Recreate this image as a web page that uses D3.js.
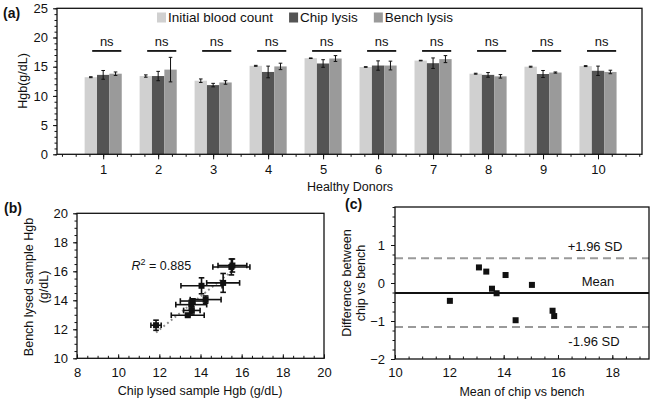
<!DOCTYPE html>
<html><head><meta charset="utf-8">
<script src="https://cdn.jsdelivr.net/npm/d3@7"></script>
<style>
html,body{margin:0;padding:0;background:#fff;}
svg{display:block;font-family:"Liberation Sans",Arial,Helvetica,sans-serif;}
</style></head>
<body><svg id="c" width="652" height="400"></svg>
<script>
// ---------- data: panel (a) ----------
const donors = [1,2,3,4,5,6,7,8,9,10];
const initialCount = [13.2, 13.4, 12.6, 15.15, 16.45, 14.95, 16.05, 13.8, 15.0, 15.1];
const initialErr   = [0.08, 0.2, 0.3, 0.08, 0.05, 0.05, 0.05, 0.08, 0.08, 0.08];
const chipLysis    = [13.6, 13.4, 11.85, 14.1, 15.55, 15.2, 15.6, 13.6, 13.75, 14.3];
const chipErr      = [0.75, 0.8, 0.3, 1.0, 0.65, 0.8, 0.9, 0.4, 0.6, 0.8];
const benchLysis   = [13.8, 14.5, 12.3, 15.05, 16.4, 15.2, 16.3, 13.35, 14.0, 14.1];
const benchErr     = [0.3, 2.1, 0.3, 0.55, 0.5, 0.75, 0.6, 0.3, 0.1, 0.3];
const seriesNames  = ["Initial blood count", "Chip lysis", "Bench lysis"];
const sigLabels    = ["ns","ns","ns","ns","ns","ns","ns","ns","ns","ns"];
const yTicksA      = [0,5,10,15,20,25];

// ---------- data: panel (b) ----------
const bChip     = [11.84, 13.38, 13.58, 13.55, 13.62, 14.25, 14.05, 15.1, 15.5, 15.55];
const bChipErr  = [0.25, 0.8, 0.4, 0.75, 0.6, 0.75, 1.0, 0.8, 0.9, 0.7];
const bBench    = [12.28, 12.97, 13.3, 13.7, 13.95, 14.05, 15.0, 15.2, 16.3, 16.4];
const bBenchErr = [0.35, 0.1, 0.25, 0.3, 0.15, 0.25, 0.55, 0.65, 0.55, 0.45];
const rSquaredText = "0.885";
const xTicksB = [8,10,12,14,16,18,20];
const yTicksB = [10,12,14,16,18,20];

// ---------- data: panel (c) ----------
const cMean = [12.02, 13.09, 13.36, 13.57, 13.74, 14.07, 14.44, 15.04, 15.80, 15.86];
const cDiff = [-0.47, 0.41, 0.30, -0.15, -0.27, 0.21, -0.98, -0.05, -0.73, -0.87];
const limitValues = [0.65, -0.26, -1.16];      // +1.96 SD, mean, -1.96 SD
const limitLabels = ["+1.96 SD", "Mean", "-1.96 SD"];
const xTicksC = [10,12,14,16,18];
const yTicksC = [-2,-1,0,1];

// ---------- drawing ----------
const svg = d3.select("#c");
svg.append("rect").attr("width",652).attr("height",400).attr("fill","#fff");
const FS = "12.5px";
const colors = ["#d0d0d0", "#545454", "#9a9a9a"];

function frame(x0,y0,x1,y1){
  svg.append("rect").attr("x",x0).attr("y",y0).attr("width",x1-x0).attr("height",y1-y0)
    .attr("fill","none").attr("stroke","#111").attr("stroke-width",1.3);
}
function styleAxis(g){
  g.select(".domain").remove();
  g.selectAll("line").attr("stroke","#111").attr("stroke-width",1);
  g.selectAll("text").attr("fill","#111").style("font-size",FS).style("font-family","Liberation Sans, Arial, sans-serif");
}
function minorTicks(domain, step){
  const out=[]; const n=Math.round((domain[1]-domain[0])/step);
  const start=Math.ceil(domain[0]/step-1e-9)*step;
  for(let v=start; v<=domain[1]+1e-9; v+=step) out.push(+v.toFixed(4));
  return out;
}
const fmt = d3.format("d");

// ===== Panel (a) =====
const xA = d3.scaleLinear().domain([0.16,10.8]).range([57,642]);
const yA = d3.scaleLinear().domain([0,25]).range([154.3,8.3]);
const bw = 0.225;
const seriesVals = [initialCount, chipLysis, benchLysis];
const seriesErr  = [initialErr, chipErr, benchErr];

// minor ticks
svg.append("g").attr("transform","translate(0,154.3)")
  .call(d3.axisBottom(xA).tickValues(minorTicks(xA.domain(),0.25)).tickSize(2.5).tickFormat(""))
  .call(styleAxis);
svg.append("g").attr("transform","translate(0,154.3)")
  .call(d3.axisBottom(xA).tickValues(donors).tickSize(5).tickPadding(5).tickFormat(fmt))
  .call(styleAxis).selectAll("text").style("font-size","13px");
svg.append("g").attr("transform","translate(57,0)")
  .call(d3.axisLeft(yA).tickValues(minorTicks([0,25],1)).tickSize(2.5).tickFormat(""))
  .call(styleAxis);
svg.append("g").attr("transform","translate(57,0)")
  .call(d3.axisLeft(yA).tickValues(yTicksA).tickSize(4).tickPadding(5).tickFormat(fmt))
  .call(styleAxis).selectAll("text").style("font-size","13px");

seriesVals.forEach((vals,s)=>{
  const g = svg.append("g");
  g.selectAll("rect").data(donors).join("rect")
    .attr("x",(d,i)=>xA(d + (s-1.5)*bw))
    .attr("width",(d)=>xA(d+bw)-xA(d))
    .attr("y",(d,i)=>yA(vals[i]))
    .attr("height",(d,i)=>yA(0)-yA(vals[i]))
    .attr("fill",colors[s]);
  const e = svg.append("g").attr("stroke","#111").attr("stroke-width",1);
  donors.forEach((d,i)=>{
    const cx = xA(d + (s-1)*bw);
    const lo = yA(vals[i]-seriesErr[s][i]), hi = yA(vals[i]+seriesErr[s][i]);
    e.append("line").attr("x1",cx).attr("x2",cx).attr("y1",lo).attr("y2",hi);
    e.append("line").attr("x1",cx-1.8).attr("x2",cx+1.8).attr("y1",lo).attr("y2",lo);
    e.append("line").attr("x1",cx-1.8).attr("x2",cx+1.8).attr("y1",hi).attr("y2",hi);
  });
});
// significance
const sig = svg.append("g");
donors.forEach((d,i)=>{
  sig.append("line").attr("x1",xA(d-0.2)).attr("x2",xA(d+0.33))
    .attr("y1",yA(17.7)).attr("y2",yA(17.7)).attr("stroke","#111").attr("stroke-width",1.8);
  sig.append("text").attr("x",xA(d+0.065)).attr("y",yA(18.6)).attr("text-anchor","middle")
    .style("font-size","13px").attr("fill","#111").text(sigLabels[i]);
});
frame(57,8.3,642,154.3);
// legend
let lx = 157;
seriesNames.forEach((n,s)=>{
  svg.append("rect").attr("x",lx).attr("y",12.5).attr("width",9).attr("height",10).attr("fill",colors[s]);
  const t = svg.append("text").attr("x",lx+11).attr("y",22).style("font-size","13.5px").attr("fill","#111").text(n);
  lx += 11 + t.node().getComputedTextLength() + 16;
});
svg.append("text").attr("x",350).attr("y",191).attr("text-anchor","middle").style("font-size",FS).attr("fill","#111").text("Healthy Donors");
svg.append("text").attr("transform","translate(27,81) rotate(-90)").attr("text-anchor","middle").style("font-size",FS).attr("fill","#111").text("Hgb(g/dL)");
svg.append("text").attr("x",3).attr("y",18).style("font-size","14px").style("font-weight","bold").attr("fill","#111").text("(a)");

// ===== Panel (b) =====
const xB = d3.scaleLinear().domain([8,20]).range([77,324]);
const yB = d3.scaleLinear().domain([10,20]).range([358.3,213.3]);
svg.append("g").attr("transform","translate(0,358.3)")
  .call(d3.axisBottom(xB).tickValues(minorTicks([8,20],0.5)).tickSize(-2.5).tickFormat(""))
  .call(styleAxis);
svg.append("g").attr("transform","translate(0,358.3)")
  .call(d3.axisBottom(xB).tickValues(xTicksB).tickSize(-4).tickPadding(9).tickFormat(fmt))
  .call(styleAxis).selectAll("text").style("font-size","13px");
svg.append("g").attr("transform","translate(77,0)")
  .call(d3.axisLeft(yB).tickValues(minorTicks([10,20],0.5)).tickSize(2.5).tickFormat(""))
  .call(styleAxis);
svg.append("g").attr("transform","translate(77,0)")
  .call(d3.axisLeft(yB).tickValues(yTicksB).tickSize(4).tickPadding(5).tickFormat(fmt))
  .call(styleAxis).selectAll("text").style("font-size","13px");

// regression line
const n = bChip.length;
const mx = d3.mean(bChip), my = d3.mean(bBench);
let sxy=0, sxx=0;
for(let i=0;i<n;i++){ sxy += (bChip[i]-mx)*(bBench[i]-my); sxx += (bChip[i]-mx)**2; }
const slope = sxy/sxx, icpt = my - slope*mx;
const [ex0, ex1] = d3.extent(bChip);
svg.append("line").attr("x1",xB(ex0)).attr("x2",xB(ex1-0.1))
  .attr("y1",yB(icpt+slope*ex0)).attr("y2",yB(icpt+slope*(ex1-0.1)))
  .attr("stroke","#8a8a8a").attr("stroke-width",2).attr("stroke-dasharray","1.8,3");

const eb = svg.append("g").attr("stroke","#111").attr("stroke-width",1.6);
bChip.forEach((cx,i)=>{
  const px = xB(cx), py = yB(bBench[i]);
  const xl = xB(cx-bChipErr[i]), xr = xB(cx+bChipErr[i]);
  const yt = yB(bBench[i]+bBenchErr[i]), ybm = yB(bBench[i]-bBenchErr[i]);
  eb.append("line").attr("x1",xl).attr("x2",xr).attr("y1",py).attr("y2",py);
  eb.append("line").attr("x1",xl).attr("x2",xl).attr("y1",py-2.8).attr("y2",py+2.8);
  eb.append("line").attr("x1",xr).attr("x2",xr).attr("y1",py-2.8).attr("y2",py+2.8);
  eb.append("line").attr("x1",px).attr("x2",px).attr("y1",yt).attr("y2",ybm);
  eb.append("line").attr("x1",px-2.8).attr("x2",px+2.8).attr("y1",yt).attr("y2",yt);
  eb.append("line").attr("x1",px-2.8).attr("x2",px+2.8).attr("y1",ybm).attr("y2",ybm);
});
svg.append("g").selectAll("rect").data(bChip).join("rect")
  .attr("x",d=>xB(d)-3).attr("y",(d,i)=>yB(bBench[i])-3).attr("width",6).attr("height",6).attr("fill","#111");
frame(77,213.3,324,358.3);
const r2 = svg.append("text").attr("x",xB(10.65)).attr("y",yB(16.1)).style("font-size","12.5px").attr("fill","#111");
r2.append("tspan").style("font-style","italic").text("R");
r2.append("tspan").attr("dy",-5).style("font-size","9px").text("2");
r2.append("tspan").attr("dy",5).text(" = " + rSquaredText);
svg.append("text").attr("x",200).attr("y",395).attr("text-anchor","middle").style("font-size",FS).attr("fill","#111").text("Chip lysed sample Hgb (g/dL)");
svg.append("text").attr("transform","translate(33,287) rotate(-90)").attr("text-anchor","middle").style("font-size",FS).attr("fill","#111").text("Bench lysed sample Hgb");
svg.append("text").attr("transform","translate(47.5,287) rotate(-90)").attr("text-anchor","middle").style("font-size",FS).attr("fill","#111").text("(g/dL)");
svg.append("text").attr("x",4).attr("y",213).style("font-size","14px").style("font-weight","bold").attr("fill","#111").text("(b)");

// ===== Panel (c) =====
const xC = d3.scaleLinear().domain([10,19.35]).range([395,649]);
const yC = d3.scaleLinear().domain([-2,2]).range([359,207]);
svg.append("g").attr("transform","translate(0,359)")
  .call(d3.axisBottom(xC).tickValues(minorTicks([10,19.35],0.5)).tickSize(-2.5).tickFormat(""))
  .call(styleAxis);
svg.append("g").attr("transform","translate(0,359)")
  .call(d3.axisBottom(xC).tickValues(xTicksC).tickSize(-4).tickPadding(9).tickFormat(fmt))
  .call(styleAxis).selectAll("text").style("font-size","13px");
svg.append("g").attr("transform","translate(395,0)")
  .call(d3.axisLeft(yC).tickValues(minorTicks([-2,2],0.25)).tickSize(2.5).tickFormat(""))
  .call(styleAxis);
svg.append("g").attr("transform","translate(395,0)")
  .call(d3.axisLeft(yC).tickValues(yTicksC).tickSize(4).tickPadding(6).tickFormat(d3.format("d")))
  .call(styleAxis).selectAll("text").style("font-size","13px");

limitValues.forEach((v,k)=>{
  const isMean = k===1;
  svg.append("line").attr("x1",395).attr("x2",649).attr("y1",yC(v)).attr("y2",yC(v))
    .attr("stroke",isMean?"#111":"#9a9a9a").attr("stroke-width",isMean?2:2)
    .attr("stroke-dasharray",isMean?null:"8,5");
});
svg.append("g").selectAll("rect").data(cMean).join("rect")
  .attr("x",d=>xC(d)-3).attr("y",(d,i)=>yC(cDiff[i])-3).attr("width",6).attr("height",6).attr("fill","#111");
frame(395,207,649,359);
svg.append("text").attr("x",595).attr("y",yC(limitValues[0])-7).attr("text-anchor","middle").style("font-size","13px").attr("fill","#111").text(limitLabels[0]);
svg.append("text").attr("x",598).attr("y",yC(limitValues[1])-7).attr("text-anchor","middle").style("font-size","13px").attr("fill","#111").text(limitLabels[1]);
svg.append("text").attr("x",594).attr("y",yC(limitValues[2])+19).attr("text-anchor","middle").style("font-size","13px").attr("fill","#111").text(limitLabels[2]);
svg.append("text").attr("x",522).attr("y",396).attr("text-anchor","middle").style("font-size",FS).attr("fill","#111").text("Mean of chip vs bench");
svg.append("text").attr("transform","translate(350.5,283) rotate(-90)").attr("text-anchor","middle").style("font-size",FS).attr("fill","#111").text("Difference between");
svg.append("text").attr("transform","translate(365,283) rotate(-90)").attr("text-anchor","middle").style("font-size",FS).attr("fill","#111").text("chip vs bench");
svg.append("text").attr("x",345).attr("y",209).style("font-size","14px").style("font-weight","bold").attr("fill","#111").text("(c)");
</script></body></html>
